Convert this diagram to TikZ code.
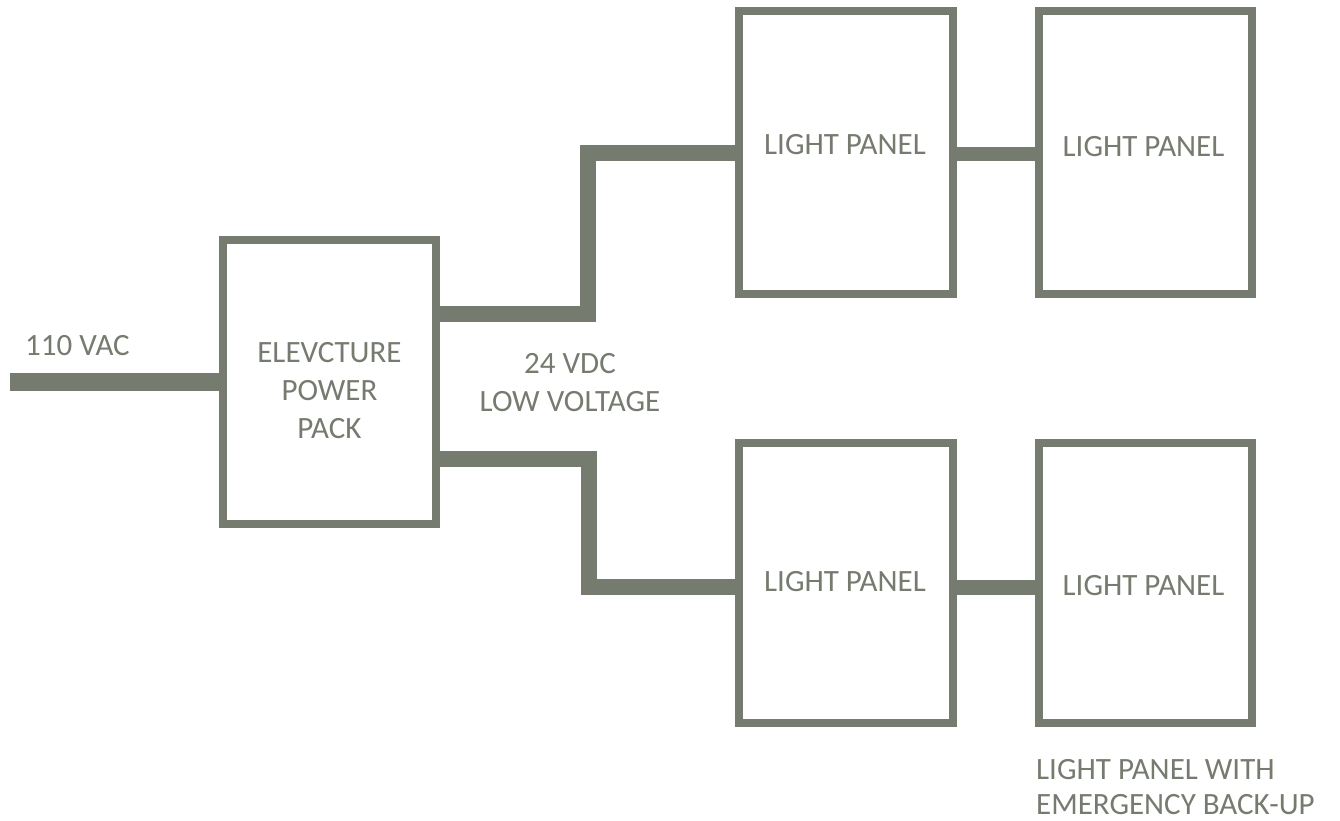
\documentclass[tikz,border=0pt]{standalone}
\usepackage{fontspec}
\setmainfont{Carlito}
\definecolor{ink}{RGB}{118,123,111}
\begin{document}
\begin{tikzpicture}[x=1pt,y=-1pt,
  box/.style={draw=ink,line width=8pt,fill=white,inner sep=0pt,minimum width=213pt},
  wire/.style={draw=ink,line width=16pt,line join=miter},
  lbl/.style={text=ink,inner sep=0pt,font=\fontsize{31}{38}\selectfont}]
\useasboundingbox (0,0) rectangle (1340,821);
% boxes
\node[box,minimum height=284pt] (pack) at (329.5,382) {};
\node[box,minimum width=214pt,minimum height=283pt] (p1) at (846,152.5) {};
\node[box,minimum height=283pt] (p2) at (1145.5,152.5) {};
\node[box,minimum width=214pt,minimum height=280pt] (p3) at (846,583) {};
\node[box,minimum height=280pt] (p4) at (1145.5,583) {};
% connectors
\coordinate (ac) at (10,382);
\draw[wire,line width=18pt] (ac) -- (pack.west |- ac);
\draw[wire] (pack.east |- 0,313.5) -- (588,313.5) -- (588,153.5) -- (p1.west |- 0,153.5);
\draw[wire] (pack.east |- 0,458.5) -- (589,458.5) -- (589,587) -- (p3.west |- 0,587);
\draw[wire,line width=14pt] (p1.east |- 0,154) -- (p2.west |- 0,154);
\draw[wire,line width=15pt] (p3.east |- 0,587) -- (p4.west |- 0,587);
% texts
\node[lbl,anchor=base west] (vac) at (25,355) {110 VAC};
\node[lbl,anchor=north,align=center] (packtxt) at (329.5,342) {ELEVCTURE\\POWER\\PACK};
\node[lbl,anchor=north,align=center] (vdc) at (570,353) {24 VDC\\LOW VOLTAGE};
\node[lbl,anchor=base] (t1) at (845,155) {LIGHT PANEL};
\node[lbl,anchor=base] (t2) at (1143.5,157) {LIGHT PANEL};
\node[lbl,anchor=base] (t3) at (845,591) {LIGHT PANEL};
\node[lbl,anchor=base] (t4) at (1143.5,595) {LIGHT PANEL};
\node[lbl,anchor=north west,align=left,font=\fontsize{31}{35}\selectfont] (emg) at (1036,759) {LIGHT PANEL WITH\\EMERGENCY BACK-UP};
\end{tikzpicture}
\end{document}
